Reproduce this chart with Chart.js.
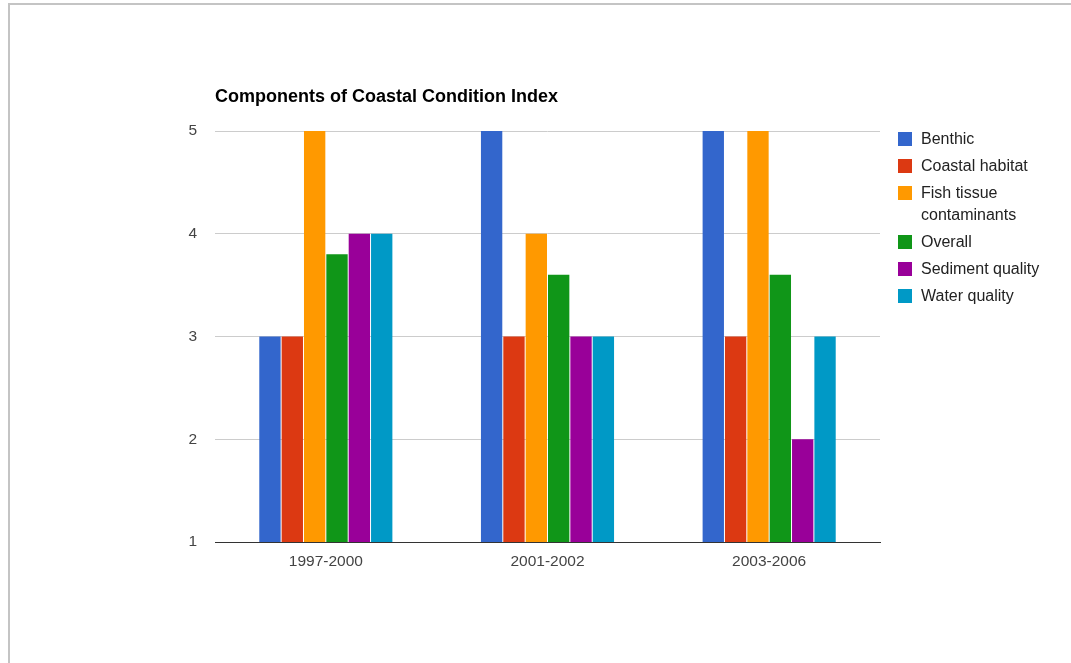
<!DOCTYPE html>
<html>
<head>
<meta charset="utf-8">
<script src="https://cdn.jsdelivr.net/npm/chart.js@4/dist/chart.umd.min.js"></script>
<style>
  html, body { margin: 0; padding: 0; background: #fff; overflow: hidden; }
  .frame {
    position: absolute; left: 8px; top: 3px; width: 1100px; height: 700px;
    border-left: 2px solid #c4c4c4; border-top: 2px solid #c4c4c4;
  }
  #wrap { position: absolute; left: 0; top: 0; width: 1071px; height: 663px; }
  .legend {
    position: absolute; left: 898px; top: 128px;
    font-family: Arial, "Liberation Sans", sans-serif; font-size: 16px; color: #222;
  }
  .legend .item { position: relative; padding-left: 23px; line-height: 22px; margin-bottom: 5px; }
  .legend .swatch { position: absolute; left: 0; top: 4px; width: 14px; height: 14px; }
</style>
</head>
<body>
<div class="frame"></div>
<div id="wrap"><canvas id="coastChart" width="1071" height="663"></canvas></div>
<div class="legend" id="legend"></div>
<script>
const periods = ["1997-2000", "2001-2002", "2003-2006"];
const seriesNames = ["Benthic", "Coastal habitat", "Fish tissue contaminants", "Overall", "Sediment quality", "Water quality"];
const benthic = [3, 5, 5];
const coastalHabitat = [3, 3, 3];
const fishTissue = [5, 4, 5];
const overall = [3.8, 3.6, 3.6];
const sediment = [4, 3, 2];
const waterQuality = [4, 3, 3];
const yTicks = [1, 2, 3, 4, 5];

const colors = ["#3366cc", "#dc3912", "#ff9900", "#109618", "#990099", "#0099c6"];
const seriesValues = [benthic, coastalHabitat, fishTissue, overall, sediment, waterQuality];
const fontFamily = 'Arial, "Liberation Sans", sans-serif';

// title sits flush with the left edge of the plot area
const titlePlugin = {
    id: 'leftTitle',
    afterDraw(chart) {
        const c = chart.ctx;
        c.save();
        c.font = 'bold 18px ' + fontFamily;
        c.fillStyle = '#000';
        c.textBaseline = 'alphabetic';
        c.fillText("Components of Coastal Condition Index", chart.chartArea.left, 102);
        c.restore();
    }
};

document.addEventListener("DOMContentLoaded", function () {
    let ctx = document.getElementById('coastChart').getContext('2d');

    new Chart(ctx, {
        type: 'bar',
        data: {
            labels: periods,
            datasets: seriesNames.map((name, i) => ({
                label: name,
                data: seriesValues[i],
                backgroundColor: colors[i],
                borderWidth: 0,
                categoryPercentage: 0.605,
                barPercentage: 0.955
            }))
        },
        options: {
            responsive: false,
            animation: false,
            layout: { padding: { left: 175, right: 191, top: 131, bottom: 81 } },
            plugins: {
                legend: { display: false },
                tooltip: { enabled: false }
            },
            scales: {
                x: {
                    afterFit(scale) { scale.height = 40; },
                    grid: { display: false, drawTicks: false },
                    border: { display: true, color: '#333', width: 1 },
                    ticks: {
                        padding: 10,
                        color: '#444',
                        font: { family: fontFamily, size: 15.5 }
                    }
                },
                y: {
                    min: 1,
                    max: 5,
                    afterFit(scale) { scale.width = 40; },
                    afterBuildTicks(scale) { scale.ticks = yTicks.map(v => ({ value: v })); },
                    grid: {
                        drawTicks: false,
                        color: c => c.tick && c.tick.value === 1 ? '#333' : '#cccccc'
                    },
                    border: { display: false },
                    ticks: {
                        padding: 18,
                        color: '#444',
                        font: { family: fontFamily, size: 15.5 }
                    }
                }
            }
        },
        plugins: [titlePlugin]
    });

    // legend on the right, long label wraps onto two lines
    const legend = document.getElementById('legend');
    seriesNames.forEach((name, i) => {
        const item = document.createElement('div');
        item.className = 'item';
        const text = name === "Fish tissue contaminants" ? "Fish tissue<br>contaminants" : name;
        item.innerHTML = '<span class="swatch" style="background:' + colors[i] + '"></span>' + text;
        legend.appendChild(item);
    });
});
</script>
</body>
</html>
